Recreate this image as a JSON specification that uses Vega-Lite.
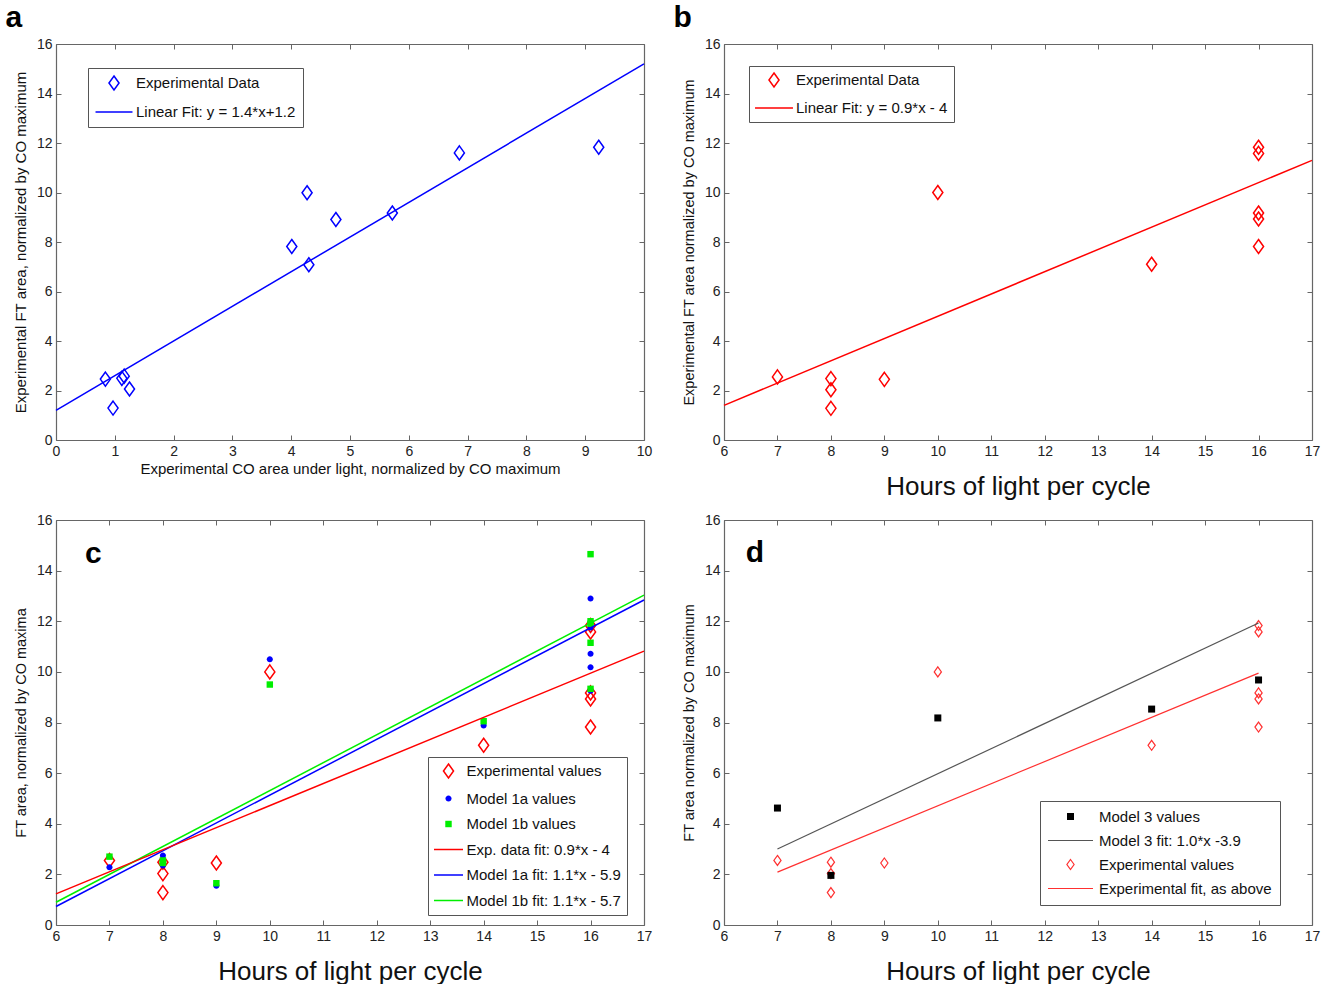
{
  "$schema": "https://vega.github.io/schema/vega-lite/v6.json",
  "padding": {"left": 5, "top": 3, "right": 5, "bottom": 0},
  "spacing": 14,
  "resolve": {"scale": {"x": "independent", "y": "independent", "shape": "independent", "fill": "independent", "stroke": "independent"}, "legend": {"shape": "independent", "fill": "independent", "stroke": "independent"}},
  "config": {
    "font": "Liberation Sans",
    "view": {"stroke": null},
    "axis": {"grid": false, "domainColor": "#666", "domainWidth": 1.2, "tickColor": "#666", "tickSize": -5, "labelFontSize": 14, "labelColor": "#222", "labelPadding": 9, "labelFlush": false, "labelOverlap": false, "titleFontWeight": "normal", "titleColor": "#111", "titleFontSize": 15},
    "legend": {"labelFontSize": 15, "labelColor": "#111", "strokeColor": "#555", "fillColor": "white", "labelFont": "Liberation Sans", "labelLimit": 400, "symbolOpacity": 1},
    "title": {"fontSize": 30, "fontWeight": "bold", "color": "#000", "anchor": "start", "frame": "bounds"}
  },
  "datasets": {
    "a_pts": [
      {"x": 0.84, "y": 2.46, "series": "Experimental Data"},
      {"x": 0.97, "y": 1.29, "series": "Experimental Data"},
      {"x": 1.12, "y": 2.49, "series": "Experimental Data"},
      {"x": 1.16, "y": 2.58, "series": "Experimental Data"},
      {"x": 1.25, "y": 2.06, "series": "Experimental Data"},
      {"x": 4.01, "y": 7.82, "series": "Experimental Data"},
      {"x": 4.27, "y": 9.99, "series": "Experimental Data"},
      {"x": 4.30, "y": 7.08, "series": "Experimental Data"},
      {"x": 4.76, "y": 8.91, "series": "Experimental Data"},
      {"x": 5.72, "y": 9.17, "series": "Experimental Data"},
      {"x": 6.86, "y": 11.6, "series": "Experimental Data"},
      {"x": 9.23, "y": 11.83, "series": "Experimental Data"}
    ],
    "a_fit": [
      {"x": 0, "y": 1.2, "series": "Linear Fit: y = 1.4*x+1.2"},
      {"x": 10, "y": 15.2, "series": "Linear Fit: y = 1.4*x+1.2"}
    ],
    "b_pts": [
      {"h": 7, "v": 2.55, "series": "Experimental Data"},
      {"h": 8, "v": 2.48, "series": "Experimental Data"},
      {"h": 8, "v": 2.03, "series": "Experimental Data"},
      {"h": 8, "v": 1.28, "series": "Experimental Data"},
      {"h": 9, "v": 2.45, "series": "Experimental Data"},
      {"h": 10, "v": 10.0, "series": "Experimental Data"},
      {"h": 14, "v": 7.1, "series": "Experimental Data"},
      {"h": 16, "v": 11.83, "series": "Experimental Data"},
      {"h": 16, "v": 11.58, "series": "Experimental Data"},
      {"h": 16, "v": 9.17, "series": "Experimental Data"},
      {"h": 16, "v": 8.93, "series": "Experimental Data"},
      {"h": 16, "v": 7.82, "series": "Experimental Data"}
    ],
    "b_fit": [
      {"h": 6, "v": 1.4, "series": "Linear Fit: y = 0.9*x - 4"},
      {"h": 17, "v": 11.3, "series": "Linear Fit: y = 0.9*x - 4"}
    ],
    "c_pts": [
      {"h": 7, "v": 2.55, "series": "Experimental values"},
      {"h": 8, "v": 2.48, "series": "Experimental values"},
      {"h": 8, "v": 2.03, "series": "Experimental values"},
      {"h": 8, "v": 1.28, "series": "Experimental values"},
      {"h": 9, "v": 2.45, "series": "Experimental values"},
      {"h": 10, "v": 10.0, "series": "Experimental values"},
      {"h": 14, "v": 7.1, "series": "Experimental values"},
      {"h": 16, "v": 11.83, "series": "Experimental values"},
      {"h": 16, "v": 11.58, "series": "Experimental values"},
      {"h": 16, "v": 9.17, "series": "Experimental values"},
      {"h": 16, "v": 8.93, "series": "Experimental values"},
      {"h": 16, "v": 7.82, "series": "Experimental values"},
      {"h": 7, "v": 2.28, "series": "Model 1a values"},
      {"h": 8, "v": 2.75, "series": "Model 1a values"},
      {"h": 8, "v": 2.35, "series": "Model 1a values"},
      {"h": 8, "v": 2.5, "series": "Model 1a values"},
      {"h": 9, "v": 1.55, "series": "Model 1a values"},
      {"h": 10, "v": 10.5, "series": "Model 1a values"},
      {"h": 14, "v": 7.88, "series": "Model 1a values"},
      {"h": 16, "v": 12.9, "series": "Model 1a values"},
      {"h": 16, "v": 11.75, "series": "Model 1a values"},
      {"h": 16, "v": 10.72, "series": "Model 1a values"},
      {"h": 16, "v": 10.18, "series": "Model 1a values"},
      {"h": 16, "v": 9.25, "series": "Model 1a values"},
      {"h": 7, "v": 2.7, "series": "Model 1b values"},
      {"h": 8, "v": 2.55, "series": "Model 1b values"},
      {"h": 8, "v": 2.45, "series": "Model 1b values"},
      {"h": 8, "v": 2.5, "series": "Model 1b values"},
      {"h": 9, "v": 1.65, "series": "Model 1b values"},
      {"h": 10, "v": 9.5, "series": "Model 1b values"},
      {"h": 14, "v": 8.05, "series": "Model 1b values"},
      {"h": 16, "v": 14.65, "series": "Model 1b values"},
      {"h": 16, "v": 12.0, "series": "Model 1b values"},
      {"h": 16, "v": 11.9, "series": "Model 1b values"},
      {"h": 16, "v": 11.15, "series": "Model 1b values"},
      {"h": 16, "v": 9.33, "series": "Model 1b values"}
    ],
    "c_fit": [
      {"h": 6, "v": 0.9, "series": "Model 1b fit: 1.1*x - 5.7"},
      {"h": 17, "v": 13.03, "series": "Model 1b fit: 1.1*x - 5.7"},
      {"h": 6, "v": 0.73, "series": "Model 1a fit: 1.1*x - 5.9"},
      {"h": 17, "v": 12.84, "series": "Model 1a fit: 1.1*x - 5.9"},
      {"h": 6, "v": 1.23, "series": "Exp. data fit: 0.9*x - 4"},
      {"h": 17, "v": 10.82, "series": "Exp. data fit: 0.9*x - 4"}
    ],
    "d_pts": [
      {"h": 7, "v": 2.55, "series": "Experimental values"},
      {"h": 8, "v": 2.48, "series": "Experimental values"},
      {"h": 8, "v": 2.03, "series": "Experimental values"},
      {"h": 8, "v": 1.28, "series": "Experimental values"},
      {"h": 9, "v": 2.45, "series": "Experimental values"},
      {"h": 10, "v": 10.0, "series": "Experimental values"},
      {"h": 14, "v": 7.1, "series": "Experimental values"},
      {"h": 16, "v": 11.83, "series": "Experimental values"},
      {"h": 16, "v": 11.58, "series": "Experimental values"},
      {"h": 16, "v": 9.17, "series": "Experimental values"},
      {"h": 16, "v": 8.93, "series": "Experimental values"},
      {"h": 16, "v": 7.82, "series": "Experimental values"},
      {"h": 7, "v": 4.62, "series": "Model 3 values"},
      {"h": 8, "v": 1.96, "series": "Model 3 values"},
      {"h": 10, "v": 8.18, "series": "Model 3 values"},
      {"h": 14, "v": 8.53, "series": "Model 3 values"},
      {"h": 16, "v": 9.68, "series": "Model 3 values"}
    ],
    "d_fit": [
      {"h": 7, "v": 3.0, "series": "Model 3 fit: 1.0*x -3.9"},
      {"h": 16, "v": 11.93, "series": "Model 3 fit: 1.0*x -3.9"},
      {"h": 7, "v": 2.09, "series": "Experimental fit, as above"},
      {"h": 16, "v": 9.95, "series": "Experimental fit, as above"}
    ]
  },
  "vconcat": [
    {
      "spacing": 21,
      "resolve": {"scale": {"x": "independent", "y": "independent", "shape": "independent", "fill": "independent", "stroke": "independent"}, "legend": {"shape": "independent", "fill": "independent", "stroke": "independent"}},
      "hconcat": [
        {
          "width": 588, "height": 396,
          "title": {"text": "a", "offset": 4, "dx": -8},
          "layer": [
            {
              "data": {"name": "a_pts"},
              "mark": {"type": "point", "filled": true, "size": 196, "strokeWidth": 1.5, "opacity": 1},
              "encoding": {
                "x": {"field": "x", "type": "quantitative", "scale": {"domain": [0, 10], "nice": false}, "axis": {"orient": "bottom", "values": [0,1,2,3,4,5,6,7,8,9,10], "title": "Experimental CO area under light, normalized by CO maximum", "titlePadding": 3}},
                "y": {"field": "y", "type": "quantitative", "scale": {"domain": [0, 16], "nice": false}, "axis": {"orient": "left", "values": [0,2,4,6,8,10,12,14,16], "title": "Experimental FT area, normalized by CO maximum", "titlePadding": 8}},
                "shape": {"field": "series", "type": "nominal", "scale": {"domain": ["Experimental Data", "Linear Fit: y = 1.4*x+1.2"], "range": ["M0,-1L0.72,0L0,1L-0.72,0Z", "M-2.64,0L2.64,0"]}, "legend": {"title": null}},
                "fill": {"field": "series", "type": "nominal", "scale": {"domain": ["Experimental Data", "Linear Fit: y = 1.4*x+1.2"], "range": ["transparent", "transparent"]}, "legend": {"title": null}},
                "stroke": {"field": "series", "type": "nominal", "scale": {"domain": ["Experimental Data", "Linear Fit: y = 1.4*x+1.2"], "range": ["#0000ff", "#0000ff"]},
                  "legend": {"title": null, "orient": "none", "legendX": 32, "legendY": 24, "padding": 7, "symbolOffset": 11, "labelOffset": 14, "symbolSize": 196, "symbolStrokeWidth": 1.5, "rowPadding": 11}}
              }
            },
            {
              "data": {"name": "a_fit"},
              "mark": {"type": "line", "strokeWidth": 1.5},
              "encoding": {
                "x": {"field": "x", "type": "quantitative", "axis": {"orient": "top", "values": [0,1,2,3,4,5,6,7,8,9,10], "labels": false, "title": null}},
                "y": {"field": "y", "type": "quantitative", "axis": {"orient": "right", "values": [0,2,4,6,8,10,12,14,16], "labels": false, "title": null}},
                "stroke": {"field": "series", "type": "nominal"}
              }
            }
          ]
        },
        {
          "width": 588, "height": 396,
          "title": {"text": "b", "offset": 4, "dx": -8},
          "layer": [
            {
              "data": {"name": "b_pts"},
              "mark": {"type": "point", "filled": true, "size": 196, "strokeWidth": 1.5, "opacity": 1},
              "encoding": {
                "x": {"field": "h", "type": "quantitative", "scale": {"domain": [6, 17], "nice": false, "zero": false}, "axis": {"orient": "bottom", "values": [6,7,8,9,10,11,12,13,14,15,16,17], "title": "Hours of light per cycle", "titleFontSize": 26, "titlePadding": 15}},
                "y": {"field": "v", "type": "quantitative", "scale": {"domain": [0, 16], "nice": false}, "axis": {"orient": "left", "values": [0,2,4,6,8,10,12,14,16], "title": "Experimental FT area normalized by CO maximum", "titleFontSize": 14.5, "titlePadding": 8}},
                "shape": {"field": "series", "type": "nominal", "scale": {"domain": ["Experimental Data", "Linear Fit: y = 0.9*x - 4"], "range": ["M0,-1L0.72,0L0,1L-0.72,0Z", "M-2.71,0L2.71,0"]}, "legend": {"title": null}},
                "fill": {"field": "series", "type": "nominal", "scale": {"domain": ["Experimental Data", "Linear Fit: y = 0.9*x - 4"], "range": ["transparent", "transparent"]}, "legend": {"title": null}},
                "stroke": {"field": "series", "type": "nominal", "scale": {"domain": ["Experimental Data", "Linear Fit: y = 0.9*x - 4"], "range": ["#ff0000", "#ff0000"]},
                  "legend": {"title": null, "orient": "none", "legendX": 25, "legendY": 22, "padding": 6, "symbolOffset": 11, "labelOffset": 14, "symbolSize": 196, "symbolStrokeWidth": 1.5, "rowPadding": 10}}
              }
            },
            {
              "data": {"name": "b_fit"},
              "mark": {"type": "line", "strokeWidth": 1.5},
              "encoding": {
                "x": {"field": "h", "type": "quantitative", "axis": {"orient": "top", "values": [6,7,8,9,10,11,12,13,14,15,16,17], "labels": false, "title": null}},
                "y": {"field": "v", "type": "quantitative", "axis": {"orient": "right", "values": [0,2,4,6,8,10,12,14,16], "labels": false, "title": null}},
                "stroke": {"field": "series", "type": "nominal"}
              }
            }
          ]
        }
      ]
    },
    {
      "spacing": 29,
      "resolve": {"scale": {"x": "independent", "y": "independent", "shape": "independent", "fill": "independent", "stroke": "independent"}, "legend": {"shape": "independent", "fill": "independent", "stroke": "independent"}},
      "hconcat": [
        {
          "width": 588, "height": 405,
          "layer": [
            {
              "data": {"name": "c_pts"},
              "mark": {"type": "point", "filled": true, "size": 196, "strokeWidth": 1.5, "opacity": 1},
              "encoding": {
                "x": {"field": "h", "type": "quantitative", "scale": {"domain": [6, 17], "nice": false, "zero": false}, "axis": {"orient": "bottom", "values": [6,7,8,9,10,11,12,13,14,15,16,17], "title": "Hours of light per cycle", "titleFontSize": 26, "titlePadding": 15}},
                "y": {"field": "v", "type": "quantitative", "scale": {"domain": [0, 16], "nice": false}, "axis": {"orient": "left", "values": [0,2,4,6,8,10,12,14,16], "title": "FT area, normalized by CO maxima", "titleFontSize": 14.5, "titlePadding": 8}},
                "shape": {"field": "series", "type": "nominal", "legend": {"title": null},
                  "scale": {"domain": ["Experimental values", "Model 1a values", "Model 1b values", "Exp. data fit: 0.9*x - 4", "Model 1a fit: 1.1*x - 5.9", "Model 1b fit: 1.1*x - 5.7"],
                    "range": ["M0,-1L0.72,0L0,1L-0.72,0Z", "M-0.43,0A0.43,0.43 0 1,0 0.43,0A0.43,0.43 0 1,0 -0.43,0Z", "M-0.46,-0.46L0.46,-0.46L0.46,0.46L-0.46,0.46Z", "M-2.07,0L2.07,0", "M-2.07,0L2.07,0", "M-2.07,0L2.07,0"]}},
                "fill": {"field": "series", "type": "nominal", "legend": {"title": null},
                  "scale": {"domain": ["Experimental values", "Model 1a values", "Model 1b values", "Exp. data fit: 0.9*x - 4", "Model 1a fit: 1.1*x - 5.9", "Model 1b fit: 1.1*x - 5.7"],
                    "range": ["transparent", "#0000ff", "#00ee00", "transparent", "transparent", "transparent"]}},
                "stroke": {"field": "series", "type": "nominal",
                  "scale": {"domain": ["Experimental values", "Model 1a values", "Model 1b values", "Exp. data fit: 0.9*x - 4", "Model 1a fit: 1.1*x - 5.9", "Model 1b fit: 1.1*x - 5.7"],
                    "range": ["#ff0000", "transparent", "transparent", "#ff0000", "#0000ff", "#00ee00"]},
                  "legend": {"title": null, "orient": "none", "legendX": 372, "legendY": 237, "padding": 6, "symbolOffset": 6.5, "labelOffset": 10, "symbolSize": 196, "symbolStrokeWidth": 1.5, "rowPadding": 9.5}}
              }
            },
            {
              "data": {"name": "c_fit"},
              "mark": {"type": "line", "strokeWidth": 1.5},
              "encoding": {
                "x": {"field": "h", "type": "quantitative", "axis": {"orient": "top", "values": [6,7,8,9,10,11,12,13,14,15,16,17], "labels": false, "title": null}},
                "y": {"field": "v", "type": "quantitative", "axis": {"orient": "right", "values": [0,2,4,6,8,10,12,14,16], "labels": false, "title": null}},
                "stroke": {"field": "series", "type": "nominal"}
              }
            },
            {
              "data": {"values": [{}]},
              "mark": {"type": "text", "text": "c", "fontSize": 30, "fontWeight": "bold", "align": "center", "baseline": "alphabetic", "color": "#000"},
              "encoding": {"x": {"datum": 6.7, "axis": null}, "y": {"datum": 14.32, "axis": null}}
            }
          ]
        },
        {
          "width": 588, "height": 405,
          "layer": [
            {
              "data": {"name": "d_pts"},
              "mark": {"type": "point", "filled": true, "size": 100, "strokeWidth": 1.2, "opacity": 1},
              "encoding": {
                "x": {"field": "h", "type": "quantitative", "scale": {"domain": [6, 17], "nice": false, "zero": false}, "axis": {"orient": "bottom", "values": [6,7,8,9,10,11,12,13,14,15,16,17], "title": "Hours of light per cycle", "titleFontSize": 26, "titlePadding": 15}},
                "y": {"field": "v", "type": "quantitative", "scale": {"domain": [0, 16], "nice": false}, "axis": {"orient": "left", "values": [0,2,4,6,8,10,12,14,16], "title": "FT area normalized by CO maximum", "titleFontSize": 14.5, "titlePadding": 8}},
                "shape": {"field": "series", "type": "nominal", "legend": {"title": null},
                  "scale": {"domain": ["Model 3 values", "Model 3 fit: 1.0*x -3.9", "Experimental values", "Experimental fit, as above"],
                    "range": ["M-0.7,-0.7L0.7,-0.7L0.7,0.7L-0.7,0.7Z", "M-4.5,0L4.5,0", "M0,-1L0.72,0L0,1L-0.72,0Z", "M-4.5,0L4.5,0"]}},
                "fill": {"field": "series", "type": "nominal", "legend": {"title": null},
                  "scale": {"domain": ["Model 3 values", "Model 3 fit: 1.0*x -3.9", "Experimental values", "Experimental fit, as above"],
                    "range": ["#000000", "transparent", "transparent", "transparent"]}},
                "stroke": {"field": "series", "type": "nominal",
                  "scale": {"domain": ["Model 3 values", "Model 3 fit: 1.0*x -3.9", "Experimental values", "Experimental fit, as above"],
                    "range": ["transparent", "#555555", "#ff3030", "#ff3030"]},
                  "legend": {"title": null, "orient": "none", "legendX": 316, "legendY": 281, "padding": 8, "symbolOffset": 15, "labelOffset": 21, "symbolSize": 100, "symbolStrokeWidth": 1.2, "rowPadding": 8}}
              }
            },
            {
              "data": {"name": "d_fit"},
              "mark": {"type": "line", "strokeWidth": 1.2},
              "encoding": {
                "x": {"field": "h", "type": "quantitative", "axis": {"orient": "top", "values": [6,7,8,9,10,11,12,13,14,15,16,17], "labels": false, "title": null}},
                "y": {"field": "v", "type": "quantitative", "axis": {"orient": "right", "values": [0,2,4,6,8,10,12,14,16], "labels": false, "title": null}},
                "stroke": {"field": "series", "type": "nominal"}
              }
            },
            {
              "data": {"values": [{}]},
              "mark": {"type": "text", "text": "d", "fontSize": 30, "fontWeight": "bold", "align": "center", "baseline": "alphabetic", "color": "#000"},
              "encoding": {"x": {"datum": 6.58, "axis": null}, "y": {"datum": 14.34, "axis": null}}
            }
          ]
        }
      ]
    }
  ]
}
